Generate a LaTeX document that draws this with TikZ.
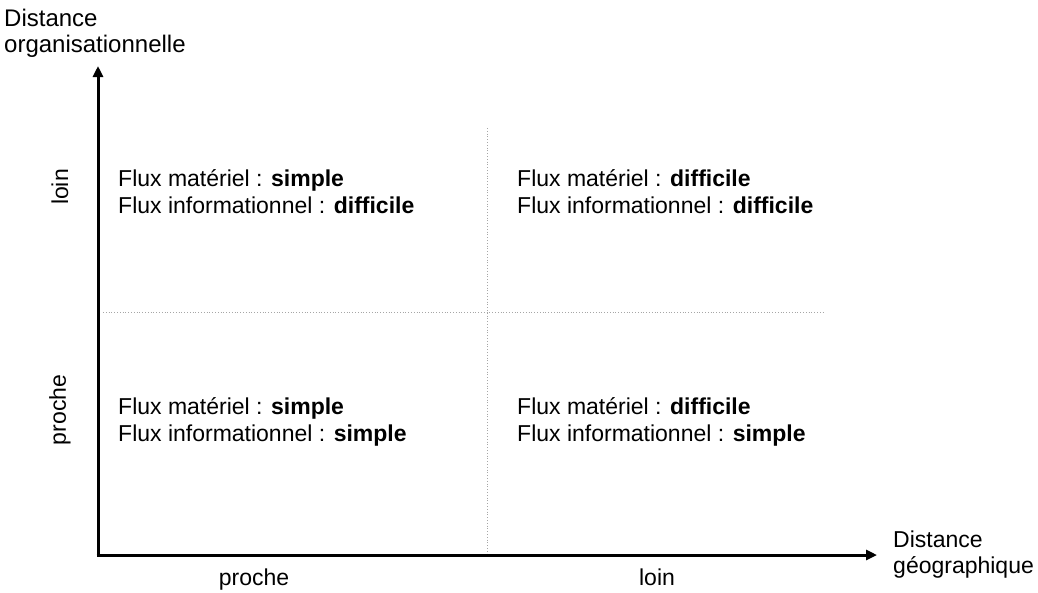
\documentclass[tikz,border=0pt]{standalone}
\usepackage{fontspec}
\setmainfont{Liberation Sans}
\usetikzlibrary{arrows.meta}
\begin{document}
\begin{tikzpicture}[x=1pt,y=-1pt,
  txt/.style={font=\fontsize{23}{27}\selectfont, align=left, inner sep=0pt},
  axis/.style={line width=3pt, -{Triangle[length=11pt,width=10pt]}},
  grid/.style={gray!70, dotted, line width=0.8pt}]
\useasboundingbox (0,0) rectangle (1038,592);
\coordinate (O) at (98,555);
\coordinate (Ytip) at (98,66);
\coordinate (Xtip) at (877,555);
\coordinate (vtop) at (487,128);
\coordinate (vbot) at (487,555);
\coordinate (hl) at (103,312);
\coordinate (hr) at (825,312);
\draw[grid] (vtop) -- (vbot);
\draw[grid] (hl) -- (hr);
\draw[axis] ([yshift=1.5pt]O) -- (Ytip);
\draw[axis] ([xshift=-1.5pt]O) -- (Xtip);
\node[txt, anchor=north west, font=\fontsize{24}{26}\selectfont] (ylab) at (4,9) {Distance\\organisationnelle};
\node[txt, anchor=west, font=\fontsize{23}{26}\selectfont] (xlab) at (893,555) {Distance\\géographique};
\node[txt, rotate=90] (yloin) at (60,187) {loin};
\node[txt, rotate=90] (yproche) at (60,410) {proche};
\node[txt, anchor=base] (xproche) at (254,585) {proche};
\node[txt, anchor=base] (xloin) at (657,585) {loin};
\node[txt, anchor=west] (q1) at (118,192) {Flux matériel : \textbf{simple}\\Flux informationnel : \textbf{difficile}};
\node[txt, anchor=west] (q2) at (517,192) {Flux matériel : \textbf{difficile}\\Flux informationnel : \textbf{difficile}};
\node[txt, anchor=west] (q3) at (118,422) {Flux matériel : \textbf{simple}\\Flux informationnel : \textbf{simple}};
\node[txt, anchor=west] (q4) at (517,422) {Flux matériel : \textbf{difficile}\\Flux informationnel : \textbf{simple}};
\end{tikzpicture}
\end{document}
